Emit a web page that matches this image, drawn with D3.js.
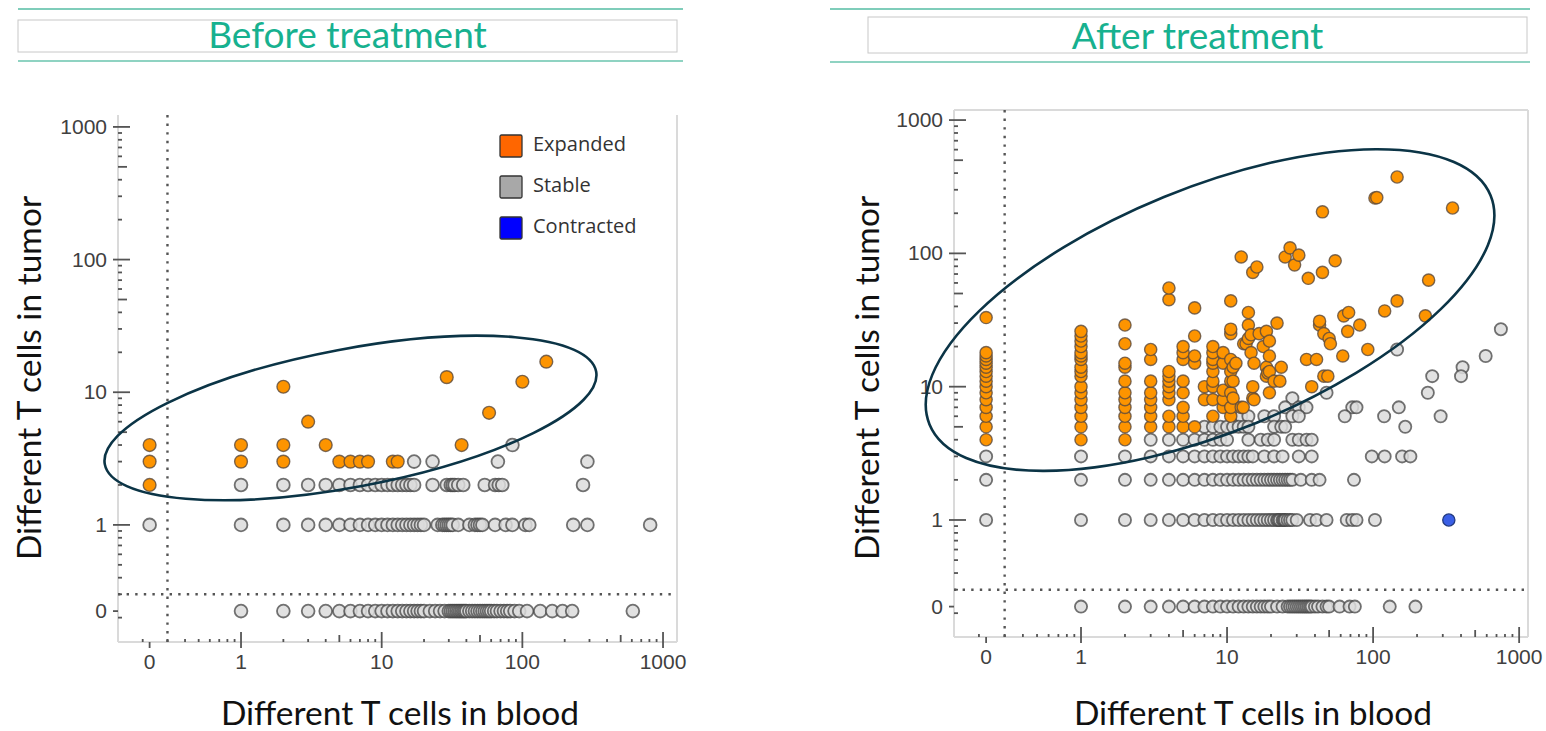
<!DOCTYPE html>
<html>
<head>
<meta charset="utf-8">
<script src="https://cdn.jsdelivr.net/npm/d3@7"></script>
<style>
  body { margin: 0; background: #fff; }
  svg { display: block; }
</style>
</head>
<body>
<svg id="chart" width="1546" height="731"></svg>
<script>
// counts of 0 are drawn at ZERO on the log axes, the dotted guides sit at GUIDE
var ZERO = 0.224;
var GUIDE = 0.3;
var majorTicks = [0, 1, 10, 100, 1000];
var legendItems = ["Expanded", "Stable", "Contracted"];

// ---- before treatment ----
var beforeExpanded = [
  [0, 4], [0, 3], [0, 2], [1, 4], [1, 3], [2, 11], [2, 4], [2, 3], [3, 6], [4, 4],
  [5, 3], [6, 3], [7, 3], [8, 3], [12, 3], [13, 3], [29, 13], [37, 4], [58, 7],
  [100, 12], [148, 17]
];
// rows: [tumor count, blood counts]
var beforeStable = [
  [4, [85]],
  [3, [17, 23, 67, 290]],
  [2, [1, 2, 3, 4, 5, 6, 7, 8, 9, 10, 11, 12, 13, 14, 15, 16, 17, 23, 29, 31, 32, 33, 35, 38,
       54, 64, 68, 72, 270]],
  [1, [0, 1, 2, 3, 4, 5, 6, 7, 8, 9, 10, 11, 12, 13, 14, 15, 16, 17, 18, 19, 20, 25, 27, 28,
       29, 30, 31, 32, 35, 42, 46, 48, 50, 52, 64, 76, 85, 105, 112, 230, 290, 810]],
  [0, [1, 2, 3, 4, 5, 6, 7, 8, 9, 10, 11, 12, 13, 14, 15, 16, 17, 18, 19, 20, 22, 24, 26, 28,
       30, 31, 32, 33, 34, 35, 36, 37, 38, 39, 40, 42, 44, 46, 48, 50, 52, 54, 56, 58, 60, 63,
       66, 70, 74, 78, 82, 88, 95, 108, 134, 163, 193, 226, 610]]
];
var beforeContracted = [];

// ---- after treatment ----
var afterExpanded = [
  [0, 4], [0, 5], [0, 6], [0, 7], [0, 8], [0, 9], [0, 10], [0, 11], [0, 12], [0, 13], [0, 14],
  [0, 15], [0, 16], [0, 17], [0, 18], [0, 33],
  [1, 4], [1, 5], [1, 6], [1, 7], [1, 8], [1, 9], [1, 10], [1, 12], [1, 13], [1, 14], [1, 16],
  [1, 17], [1, 18], [1, 20], [1, 22], [1, 24], [1, 26],
  [2, 4], [2, 5], [2, 6], [2, 7], [2, 8], [2, 9], [2, 11], [2, 14], [2, 15], [2, 21], [2, 29],
  [3, 5], [3, 6], [3, 7], [3, 8], [3, 9], [3, 11], [3, 16], [3, 19],
  [4, 5], [4, 6], [4, 8], [4, 9], [4, 10], [4, 11], [4, 12], [4, 13], [4, 45], [4, 55],
  [5, 5], [5, 6], [5, 7], [5, 9], [5, 11], [5, 16], [5, 18], [5, 20],
  [6, 5], [6, 15], [6, 17], [6, 24], [6, 39],
  [7, 8], [7, 10],
  [8, 6], [8, 8], [8, 10], [8, 11], [8, 13], [8, 15], [8, 16], [8, 18], [8, 20],
  [9.4, 7], [9.4, 8], [9.4, 9.4], [9.4, 15], [9.4, 18],
  [10.6, 6], [10.6, 7], [10.6, 9], [10.6, 11], [10.6, 13], [10.6, 16], [10.6, 25], [10.6, 27],
  [10.6, 44],
  [11, 8.2], [11, 11], [11, 14], [11.5, 15], [12.5, 7], [12.9, 7], [13, 21], [13.5, 21],
  [14, 23], [14, 29], [14, 36], [14.6, 18], [14.6, 24.5], [15, 8.2], [15, 10], [15.3, 15],
  [16.6, 25], [17.7, 20], [18.6, 12], [18.6, 14], [18.6, 26], [19, 12.7], [19.5, 9], [19.5, 13],
  [19.5, 17], [19.5, 22], [21, 11], [22, 30], [23, 11], [23.5, 14], [15.3, 8],
  [12.5, 94], [15, 72], [16, 79], [25, 94], [27, 110], [29, 82], [31, 97], [36, 65], [45, 72],
  [55, 88], [45, 205], [103, 260], [106, 262], [146, 374], [350, 219], [240, 63], [146, 44],
  [120, 37], [228, 34], [63, 34], [68, 36], [81, 29], [67, 26], [43, 29], [43, 31], [46, 25],
  [50, 23], [51, 21], [92, 19], [62, 17], [35, 16], [41, 16], [46, 12], [49, 12], [38, 10]
];
var afterStable = [
  [27, [750]],
  [19, [146]],
  [17, [590]],
  [14, [410]],
  [12, [254, 400]],
  [9, [48, 237]],
  [8.2, [28]],
  [7, [25, 31, 35, 72, 77, 150]],
  [6, [12.5, 14, 18, 21, 28, 31, 64, 119, 290]],
  [5, [7, 8, 9, 10, 11, 12, 13, 14, 21, 23.5, 25, 166]],
  [4, [3, 4, 5, 6, 7, 8, 9, 10, 14, 17, 19, 21, 28, 31, 35, 38]],
  [3, [0, 1, 2, 3, 4, 5, 6, 7, 8, 9, 10, 11, 12, 13, 14, 15, 18, 21, 24, 31, 38, 98, 120, 158, 180]],
  [2, [0, 1, 2, 3, 4, 5, 6, 7, 8, 9, 10, 11, 12, 13, 14, 15, 16, 17, 18, 19, 20, 21, 22, 23, 24,
       25, 26, 27, 28, 32, 38, 43, 74]],
  [1, [0, 1, 2, 3, 4, 5, 6, 7, 8, 9, 10, 11, 12, 13, 14, 15, 16, 17, 18, 19, 20, 21, 22, 22.5,
       23, 24, 24.5, 25, 26, 27, 28, 30, 37, 41, 48, 66, 72, 77, 103]],
  [0, [1, 2, 3, 4, 5, 6, 7, 8, 9, 10, 11, 12, 13, 14, 15, 16, 17, 18, 19, 20, 22, 24, 26, 27, 28,
       29, 30, 31, 32, 33, 34, 35, 36, 37, 38, 40, 42, 45, 48, 50, 59, 69, 75, 130, 195]]
];
var afterContracted = [[330, 1]];

// circled groups (centre in data units, radii in px)
var beforeEllipse = { cx: 6, cy: 6.4, rx: 250, ry: 69, angle: -10.7 };
var afterEllipse = { cx: 7.65, cy: 37.6, rx: 303, ry: 122, angle: -22.2 };

var panels = [
  {
    title: "Before treatment",
    head: { lineL: 18, lineR: 683, boxL: 18, boxR: 677, boxT: 20, boxB: 52, top: 9, bottom: 61, base: 48 },
    box: { l: 118, r: 677, t: 115, b: 642 },
    xDom: [0.1335, 1257], yDom: [0.131, 1230], r: 6.4, topBorder: false,
    expanded: beforeExpanded, stable: beforeStable, contracted: beforeContracted,
    ellipse: beforeEllipse, legend: true, yTitleX: 41, xTitleX: 400
  },
  {
    title: "After treatment",
    head: { lineL: 830, lineR: 1530, boxL: 868, boxR: 1527, boxT: 17, boxB: 53, top: 9, bottom: 62, base: 49 },
    box: { l: 954, r: 1528, t: 110, b: 637 },
    xDom: [0.135, 1150], yDom: [0.1325, 1190], r: 6.1, topBorder: true,
    expanded: afterExpanded, stable: afterStable, contracted: afterContracted,
    ellipse: afterEllipse, legend: false, yTitleX: 879, xTitleX: 1253
  }
];

var svg = d3.select("#chart");

var minorTicks = [];
[0.1, 1, 10, 100].forEach(function (d) {
  for (var k = 2; k <= 9; k++) minorTicks.push(k * d);
});

function pos(v) { return v === 0 ? ZERO : v; }

panels.forEach(function (p) {
  var g = svg.append("g");
  var b = p.box;
  var x = d3.scaleLog().domain(p.xDom).range([b.l, b.r]);
  var y = d3.scaleLog().domain(p.yDom).range([b.b, b.t]);

  // header band
  var h = p.head;
  g.append("line").attr("x1", h.lineL).attr("x2", h.lineR).attr("y1", h.top).attr("y2", h.top)
    .attr("stroke", "#7fcdba").attr("stroke-width", 2);
  g.append("line").attr("x1", h.lineL).attr("x2", h.lineR).attr("y1", h.bottom).attr("y2", h.bottom)
    .attr("stroke", "#8fd3c2").attr("stroke-width", 2);
  g.append("rect").attr("x", h.boxL).attr("y", h.boxT).attr("width", h.boxR - h.boxL).attr("height", h.boxB - h.boxT)
    .attr("fill", "#fff").attr("stroke", "#c8c8c8").attr("stroke-width", 1);
  g.append("text").attr("x", (h.boxL + h.boxR) / 2).attr("y", h.base)
    .attr("text-anchor", "middle").attr("font-family", "Lato, 'Open Sans', sans-serif")
    .attr("font-size", 37).attr("fill", "#17b18f").text(p.title);

  // frame
  var frame = g.append("g").attr("stroke", "#dadada").attr("stroke-width", 2).attr("fill", "none");
  frame.append("line").attr("x1", b.l).attr("x2", b.l).attr("y1", b.t).attr("y2", b.b);
  frame.append("line").attr("x1", b.l).attr("x2", b.r).attr("y1", b.b).attr("y2", b.b);
  frame.append("line").attr("x1", b.r).attr("x2", b.r).attr("y1", b.t).attr("y2", b.b);
  if (p.topBorder) {
    frame.append("line").attr("x1", b.l).attr("x2", b.r).attr("y1", b.t).attr("y2", b.t);
  }

  // dotted guides between 0 and 1
  var dots = g.append("g").attr("stroke", "#555").attr("stroke-width", 2.4)
    .attr("stroke-dasharray", "2.4,6.2");
  dots.append("line").attr("x1", x(GUIDE)).attr("x2", x(GUIDE)).attr("y1", b.t).attr("y2", b.b);
  dots.append("line").attr("x1", b.l).attr("x2", b.r).attr("y1", y(GUIDE)).attr("y2", y(GUIDE));

  // ticks
  var ticks = g.append("g").attr("stroke", "#555").attr("stroke-width", 1.8);
  ticks.selectAll(".mx").data(minorTicks).enter().append("line")
    .attr("x1", function (d) { return x(d); }).attr("x2", function (d) { return x(d); })
    .attr("y1", b.b).attr("y2", function (d) { return b.b - (String(d).indexOf("5") === 0 ? 7 : 3); });
  ticks.selectAll(".my").data(minorTicks).enter().append("line")
    .attr("y1", function (d) { return y(d); }).attr("y2", function (d) { return y(d); })
    .attr("x1", b.l).attr("x2", function (d) { return b.l + (String(d).indexOf("5") === 0 ? 9 : 4); });
  ticks.selectAll(".Mx").data(majorTicks).enter().append("line")
    .attr("x1", function (d) { return x(pos(d)); }).attr("x2", function (d) { return x(pos(d)); })
    .attr("y1", function (d) { return d === 0 ? b.b : b.b - 10; }).attr("y2", b.b + 6);
  ticks.selectAll(".My").data(majorTicks).enter().append("line")
    .attr("y1", function (d) { return y(pos(d)); }).attr("y2", function (d) { return y(pos(d)); })
    .attr("x1", b.l - 5).attr("x2", function (d) { return d === 0 ? b.l : b.l + 12; });

  var labels = g.append("g").attr("font-family", "'Liberation Sans', Arial, sans-serif")
    .attr("font-size", 21).attr("fill", "#404040");
  labels.selectAll(".lx").data(majorTicks).enter().append("text")
    .attr("x", function (d) { return x(pos(d)); }).attr("y", b.b + 27)
    .attr("text-anchor", "middle").text(function (d) { return d; });
  labels.selectAll(".ly").data(majorTicks).enter().append("text")
    .attr("x", b.l - 11).attr("y", function (d) { return y(pos(d)) + 7; })
    .attr("text-anchor", "end").text(function (d) { return d; });

  // points
  var stablePts = [];
  p.stable.forEach(function (row) {
    row[1].forEach(function (v) { stablePts.push([v, row[0]]); });
  });
  var pts = g.append("g");
  pts.selectAll(".s").data(stablePts).enter().append("circle")
    .attr("cx", function (d) { return x(pos(d[0])); }).attr("cy", function (d) { return y(pos(d[1])); })
    .attr("r", p.r).attr("fill", "#dcdcdc").attr("fill-opacity", 0.85)
    .attr("stroke", "#444").attr("stroke-opacity", 0.75).attr("stroke-width", 1.8);
  pts.selectAll(".e").data(p.expanded).enter().append("circle")
    .attr("cx", function (d) { return x(pos(d[0])); }).attr("cy", function (d) { return y(pos(d[1])); })
    .attr("r", p.r).attr("fill", "#fd9400")
    .attr("stroke", "#5b4a3c").attr("stroke-opacity", 0.8).attr("stroke-width", 1.4);
  pts.selectAll(".c").data(p.contracted).enter().append("circle")
    .attr("cx", function (d) { return x(pos(d[0])); }).attr("cy", function (d) { return y(pos(d[1])); })
    .attr("r", p.r).attr("fill", "#3a5fe6").attr("stroke", "#223a80").attr("stroke-width", 1.3);

  // ellipse annotation
  var e = p.ellipse;
  g.append("ellipse").attr("cx", 0).attr("cy", 0).attr("rx", e.rx).attr("ry", e.ry)
    .attr("transform", "translate(" + x(e.cx) + "," + y(e.cy) + ") rotate(" + e.angle + ")")
    .attr("fill", "none").attr("stroke", "#0b3446").attr("stroke-width", 2.6);

  // axis titles
  g.append("text").attr("transform", "translate(" + p.yTitleX + ",378) rotate(-90)")
    .attr("text-anchor", "middle").attr("font-family", "Lato, 'Open Sans', sans-serif")
    .attr("font-size", 33.5).attr("fill", "#111").text("Different T cells in tumor");
  g.append("text").attr("x", p.xTitleX).attr("y", 725)
    .attr("text-anchor", "middle").attr("font-family", "Lato, 'Open Sans', sans-serif")
    .attr("font-size", 33.5).attr("fill", "#111").text("Different T cells in blood");

  if (p.legend) {
    var colors = ["#ff6600", "#a8a8a8", "#0000ff"];
    var lg = g.append("g").attr("transform", "translate(500,135)");
    var item = lg.selectAll(".li").data(legendItems).enter().append("g")
      .attr("transform", function (d, i) { return "translate(0," + (i * 41) + ")"; });
    item.append("rect").attr("width", 22).attr("height", 22).attr("rx", 1.5)
      .attr("fill", function (d, i) { return colors[i]; })
      .attr("stroke", "#333").attr("stroke-width", 1.3);
    item.append("text").attr("x", 33).attr("y", 16)
      .attr("font-family", "'Open Sans', sans-serif").attr("font-size", 20).attr("fill", "#333")
      .text(function (d) { return d; });
  }
});
</script>
</body>
</html>
